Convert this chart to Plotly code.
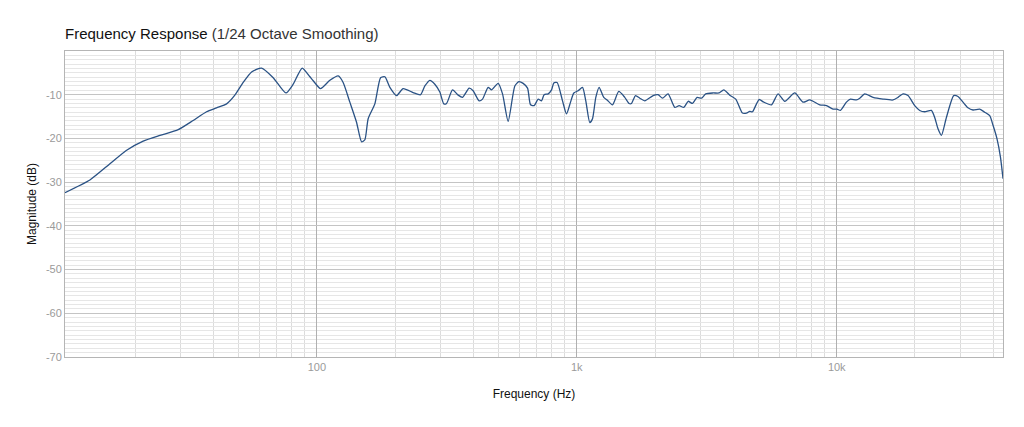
import plotly.graph_objects as go

# frequency response (Hz, dB)
freq_hz = [
    10.74, 13.39, 15.99, 18.54, 21.47, 24.90, 29.28, 33.43, 37.64, 41.13,
    44.95, 48.36, 52.06, 56.09, 61.28, 67.92, 76.02, 81.07, 87.81, 94.00,
    96.78, 103.3, 112.2, 120.8, 126.2, 133.9, 142.1, 148.6, 153.0, 157.5,
    167.1, 175.8, 182.6, 190.9, 202.6, 214.7, 234.6, 250.5, 260.3, 272.0,
    284.3, 297.2, 307.9, 315.4, 332.6, 349.6, 363.5, 385.4, 399.1, 420.9,
    433.8, 455.9, 469.8, 498.1, 517.9, 544.3, 577.5, 598.4, 621.7, 646.4,
    663.8, 685.4, 710.1, 731.7, 748.7, 775.7, 799.4, 815.7, 840.0, 881.0,
    912.8, 945.8, 973.9, 1011.6, 1051.7, 1082.9, 1122.0, 1149.2, 1183.3, 1218.4,
    1270, 1308, 1372, 1450, 1529, 1589, 1623, 1682, 1747, 1826,
    1966, 2055, 2136, 2245, 2382, 2475, 2580, 2681, 2786, 2902,
    3017, 3134, 3343, 3526, 3676, 3877, 4088, 4338, 4495, 4628,
    4740, 5025, 5239, 5609, 5946, 6310, 6895, 7421, 7874, 8604,
    9130, 9678, 10028, 10332, 10897, 11290, 11906, 12260, 12816, 13793,
    15072, 16464, 17212, 17989, 18803, 19953, 20855, 21801, 23130, 23817,
    24524, 25275, 26417, 28184, 29276, 30600, 31989, 33435, 35481, 37089,
    38772, 39925, 41356, 42625, 43618,
]
magnitude_db = [
    -32.4, -29.5, -25.8, -22.7, -20.6, -19.3, -18.0, -15.9, -13.9, -13.0,
    -12.1, -10.1, -7.2, -4.8, -3.9, -6.1, -9.6, -7.6, -3.9, -5.9,
    -6.8, -8.6, -6.7, -5.7, -7.2, -11.7, -16.3, -20.8, -20.3, -15.5,
    -12.1, -6.1, -5.9, -8.3, -10.2, -8.6, -9.5, -10.0, -8.0, -6.7,
    -7.6, -9.4, -12.1, -12.0, -8.9, -10.1, -10.6, -8.5, -9.1, -11.4,
    -11.0, -8.3, -8.9, -7.4, -9.8, -16.1, -8.0, -7.0, -7.4, -8.5,
    -12.3, -12.5, -11.0, -11.4, -10.0, -9.8, -8.9, -7.3, -7.2, -11.4,
    -14.4, -11.7, -9.6, -9.1, -8.3, -11.4, -16.4, -15.5, -10.6, -8.3,
    -10.6, -11.2, -12.3, -9.25, -10.6, -12.0, -12.0, -10.2, -10.8, -11.4,
    -10.2, -10.0, -10.8, -9.8, -12.9, -12.5, -12.9, -11.5, -12.0, -10.6,
    -10.8, -9.8, -9.6, -9.6, -8.9, -10.1, -11.0, -14.2, -14.2, -13.8,
    -13.9, -11.1, -11.7, -12.3, -9.8, -11.5, -9.6, -11.7, -11.2, -12.3,
    -12.5, -13.3, -13.3, -13.6, -11.7, -11.0, -11.2, -10.8, -9.8, -10.6,
    -11.0, -11.2, -10.6, -9.8, -10.2, -12.5, -13.6, -13.9, -13.6, -15.2,
    -17.8, -19.3, -15.2, -10.2, -10.4, -11.7, -13.0, -13.5, -13.3, -14.0,
    -14.8, -17.0, -20.1, -24.2, -29.2,
]

x_tickvals = [100, 1000, 10000]
x_ticktext = ["100", "1k", "10k"]
y_tickvals = [-70, -60, -50, -40, -30, -20, -10]
y_ticktext = ["-70", "-60", "-50", "-40", "-30", "-20", "-10"]

font_family = "Helvetica Neue, Helvetica, Arial, Liberation Sans, sans-serif"

fig = go.Figure()
fig.add_trace(go.Scatter(x=freq_hz, y=magnitude_db, mode="lines",
                         line=dict(color="#2a5285", width=1.3, shape="spline", smoothing=0.6),
                         showlegend=False))

# page body adds ~8px offset, so margins are trimmed to land the plot box where the reference has it
fig.update_layout(
    width=1024, height=427,
    margin=dict(l=57, r=29, t=43, b=78),
    paper_bgcolor="white", plot_bgcolor="white",
    font=dict(family=font_family, color="#222"),
    title=dict(text="Frequency Response <span style='font-weight:normal;color:#333'>(1/24 Octave Smoothing)</span>",
               x=57/1024, xanchor="left", y=0.939, yanchor="middle",
               font=dict(size=15, color="#111")),
)

fig.update_xaxes(
    type="log", range=[1.031, 4.6396],
    tickvals=x_tickvals, ticktext=x_ticktext,
    tickfont=dict(size=11, color="#9a9a9a"),
    showgrid=True, gridcolor="#b0b0b0", gridwidth=1,
    minor=dict(showgrid=True, gridcolor="#dcdcdc", dtick="D1", ticks=""),
    showline=True, linecolor="#b5b5b5", mirror=True,
    zeroline=False, ticks="",
    title=dict(text="Frequency (Hz)", font=dict(size=12, color="#111"), standoff=17),
)
fig.update_yaxes(
    range=[-70, 0], tickvals=y_tickvals, ticktext=y_ticktext,
    tickfont=dict(size=11, color="#9a9a9a"),
    showgrid=True, gridcolor="#c4c4c4", gridwidth=1,
    minor=dict(showgrid=True, gridcolor="#e6e6e6", dtick=1, ticks=""),
    showline=True, linecolor="#b5b5b5", mirror=True,
    zeroline=False, ticks="",
    title=dict(text="Magnitude (dB)", font=dict(size=12, color="#111"), standoff=6),
)

fig.write_html("out.html")
